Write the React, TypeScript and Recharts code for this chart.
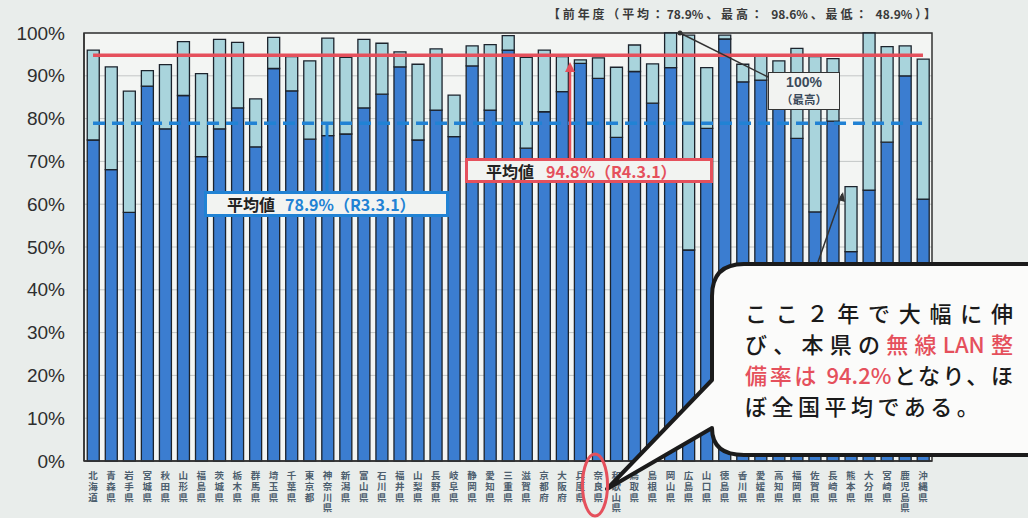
import React from "react";
import {
  BarChart,
  Bar,
  XAxis,
  YAxis,
  CartesianGrid,
  ReferenceLine,
  ReferenceArea,
} from "recharts";

const prefectures = [
  "北海道", "青森県", "岩手県", "宮城県", "秋田県", "山形県", "福島県",
  "茨城県", "栃木県", "群馬県", "埼玉県", "千葉県", "東京都", "神奈川県",
  "新潟県", "富山県", "石川県", "福井県", "山梨県", "長野県", "岐阜県",
  "静岡県", "愛知県", "三重県", "滋賀県", "京都府", "大阪府", "兵庫県",
  "奈良県", "和歌山県", "鳥取県", "島根県", "岡山県", "広島県", "山口県",
  "徳島県", "香川県", "愛媛県", "高知県", "福岡県", "佐賀県", "長崎県",
  "熊本県", "大分県", "宮崎県", "鹿児島県", "沖縄県",
];

// R3.3.1 (previous year)
const prevRate = [
  75.0, 68.1, 58.1, 87.6, 77.6, 85.4, 71.1,
  77.6, 82.5, 73.4, 91.7, 86.5, 75.2, 76.0,
  76.4, 82.5, 85.7, 92.1, 75.0, 82.0, 75.8,
  92.3, 82.0, 96.0, 73.1, 81.6, 86.3, 92.9,
  89.4, 75.6, 91.0, 83.6, 91.9, 49.3, 77.7,
  98.6, 88.6, 89.0, 84.0, 75.4, 58.2, 79.4,
  48.9, 63.3, 74.5, 90.0, 61.2,
];

// R4.3.1 (current year)
const currRate = [
  96.0, 92.1, 86.4, 91.2, 92.6, 98.0, 90.5,
  98.5, 97.8, 84.6, 99.0, 94.5, 93.5, 98.8,
  94.3, 98.5, 97.6, 95.6, 92.7, 96.3, 85.5,
  97.0, 97.3, 99.4, 94.3, 96.0, 94.5, 93.7,
  94.2, 92.0, 97.2, 92.8, 100, 99.5, 91.9,
  99.5, 92.7, 94.8, 93.5, 96.4, 94.5, 94.0,
  64.1, 100, 96.8, 97.0, 93.9,
];

const yTicks = [0, 10, 20, 30, 40, 50, 60, 70, 80, 90, 100];
const prevAvg = 78.9;
const currAvg = 94.8;

const data = prefectures.map((name, i) => ({
  name,
  prev: prevRate[i],
  gain: Math.round((currRate[i] - prevRate[i]) * 10) / 10,
}));

const JP = '"Noto Sans CJK JP", "Noto Sans", sans-serif';

// stacked characters, one per line
const PrefTick = (props: any) => {
  const { x, y, payload } = props;
  const chars = Array.from(String(payload.value));
  return (
    <text
      textAnchor="middle"
      dominantBaseline="central"
      fontSize={9.5}
      fontWeight={700}
      fill="#4d5e6e"
      fontFamily={JP}
    >
      {chars.map((c, i) => (
        <tspan key={i} x={x} y={y + 12 + i * 10.8}>
          {c}
        </tspan>
      ))}
    </text>
  );
};

const PctTick = (props: any) => {
  const { y, payload } = props;
  return (
    <text
      x={65}
      y={y}
      textAnchor="end"
      dominantBaseline="central"
      fontSize={19}
      fill="#2e2e2e"
      fontFamily='"Liberation Sans", Arial, sans-serif'
    >
      {payload.value}%
    </text>
  );
};

const boxBase: React.CSSProperties = {
  position: "absolute",
  boxSizing: "border-box",
  background: "#f2f3f1",
  fontFamily: JP,
  fontWeight: 700,
  display: "flex",
  alignItems: "center",
  whiteSpace: "nowrap",
};

const bubbleLine: React.CSSProperties = {
  width: 268,
  textAlign: "justify",
  textAlignLast: "justify",
  height: 31,
};

export default function App() {
  return (
    <div
      style={{
        position: "absolute",
        left: 0,
        top: 0,
        width: 1028,
        height: 518,
        background: "#e9edeb",
        overflow: "hidden",
      }}
    >
      <BarChart
        width={1028}
        height={518}
        data={data}
        margin={{ top: 33, right: 96, bottom: 0, left: 0 }}
        barCategoryGap="18%"
      >
        <CartesianGrid vertical={false} stroke="#c3c7c6" fill="#f3f5f3" />
        <XAxis
          dataKey="name"
          interval={0}
          height={57}
          tick={<PrefTick />}
          tickLine={false}
          tickSize={0}
          axisLine={{ stroke: "#333", strokeWidth: 1.5 }}
        />
        <YAxis
          domain={[0, 100]}
          ticks={yTicks}
          width={84}
          tick={<PctTick />}
          tickLine={false}
          axisLine={{ stroke: "#333", strokeWidth: 1.5 }}
        />
        <Bar
          dataKey="prev"
          stackId="a"
          fill="#3b7dd0"
          stroke="#1c232c"
          strokeWidth={1.3}
          isAnimationActive={false}
        />
        <Bar
          dataKey="gain"
          stackId="a"
          fill="#a9d4dc"
          stroke="#1c232c"
          strokeWidth={1.3}
          isAnimationActive={false}
        />
        <ReferenceArea
          y1={0}
          y2={100}
          fill="none"
          fillOpacity={0}
          stroke="#333"
          strokeWidth={1.5}
        />
        <ReferenceLine
          segment={[
            { x: prefectures[0], y: prevAvg },
            { x: prefectures[prefectures.length - 1], y: prevAvg },
          ]}
          stroke="#2182d4"
          strokeWidth={3.5}
          strokeDasharray="12 7"
        />
        <ReferenceLine
          segment={[
            { x: prefectures[0], y: currAvg },
            { x: prefectures[prefectures.length - 1], y: currAvg },
          ]}
          stroke="#e5505c"
          strokeWidth={3.5}
        />
      </BarChart>

      <svg
        width={1028}
        height={518}
        style={{ position: "absolute", left: 0, top: 0, pointerEvents: "none" }}
      >
        {/* leader lines */}
        <line x1={327} y1={124} x2={327} y2={191} stroke="#2182d4" strokeWidth={3} />
        <line x1={570} y1={70} x2={570} y2={158} stroke="#e5505c" strokeWidth={2.5} />
        <path d="M565,72 L570,62 L575,72 Z" fill="#e5505c" />
        <line x1={680} y1={33} x2={768} y2={77} stroke="#333" strokeWidth={1.5} />
        <circle cx={680} cy={33} r={2.5} fill="#333" />
        <line x1={818} y1={262} x2={842} y2={194} stroke="#333" strokeWidth={1.5} />
        <path d="M838,200 L843,192 L845,202 Z" fill="#333" />

        {/* speech bubble */}
        <path
          d="M744,264 H1040 V455 H744 Q712,455 712,428 L607,489 L712,380 V296 Q712,264 744,264 Z"
          fill="#fbfbfa"
          stroke="#1b1b1b"
          strokeWidth={4}
          strokeLinejoin="round"
        />
        <ellipse
          cx={595}
          cy={485}
          rx={12.5}
          ry={31}
          fill="none"
          stroke="#e5505c"
          strokeWidth={3}
        />
      </svg>

      {/* title */}
      <div
        style={{
          position: "absolute",
          left: 548,
          top: 5,
          width: 388,
          fontFamily: JP,
          fontWeight: 700,
          fontSize: 12,
          color: "#3a3a3a",
          whiteSpace: "nowrap",
          textAlign: "justify",
          textAlignLast: "justify",
        }}
      >
        【前年度（平均：78.9%、最高： 98.6%、最低： 48.9%）】
      </div>

      {/* average boxes */}
      <div
        style={{
          ...boxBase,
          left: 204,
          top: 191,
          width: 245,
          height: 26,
          border: "3px solid #2182d4",
          paddingLeft: 20,
          fontSize: 16,
        }}
      >
        <span style={{ color: "#222" }}>平均値</span>
        <span style={{ color: "#2182d4", marginLeft: 10 }}>78.9%（R3.3.1）</span>
      </div>
      <div
        style={{
          ...boxBase,
          left: 465,
          top: 158,
          width: 248,
          height: 25,
          border: "3px solid #e5505c",
          paddingLeft: 18,
          fontSize: 16,
        }}
      >
        <span style={{ color: "#222" }}>平均値</span>
        <span style={{ color: "#e5505c", marginLeft: 12 }}>94.8%（R4.3.1）</span>
      </div>

      {/* max box */}
      <div
        style={{
          ...boxBase,
          left: 768,
          top: 72,
          width: 72,
          height: 38,
          border: "1.5px solid #333",
          flexDirection: "column",
          justifyContent: "center",
          color: "#3b4a5a",
        }}
      >
        <span
          style={{
            fontSize: 14,
            lineHeight: "17px",
            fontFamily: '"Liberation Sans", Arial, sans-serif',
          }}
        >
          100%
        </span>
        <span style={{ fontSize: 11.5, lineHeight: "17px" }}>（最高）</span>
      </div>

      {/* bubble text */}
      <div
        style={{
          position: "absolute",
          left: 745,
          top: 297,
          fontFamily: JP,
          fontSize: 22,
          fontWeight: 500,
          lineHeight: "31px",
          color: "#1a1a1a",
        }}
      >
        <div style={bubbleLine}>ここ２年で大幅に伸</div>
        <div style={bubbleLine}>
          び、本県の<span style={{ color: "#e5505c" }}>無線LAN整</span>
        </div>
        <div style={bubbleLine}>
          <span style={{ color: "#e5505c" }}>備率は 94.2%</span>となり、ほ
        </div>
        <div style={{ height: 31, letterSpacing: 4.5 }}>ぼ全国平均である。</div>
      </div>
    </div>
  );
}
